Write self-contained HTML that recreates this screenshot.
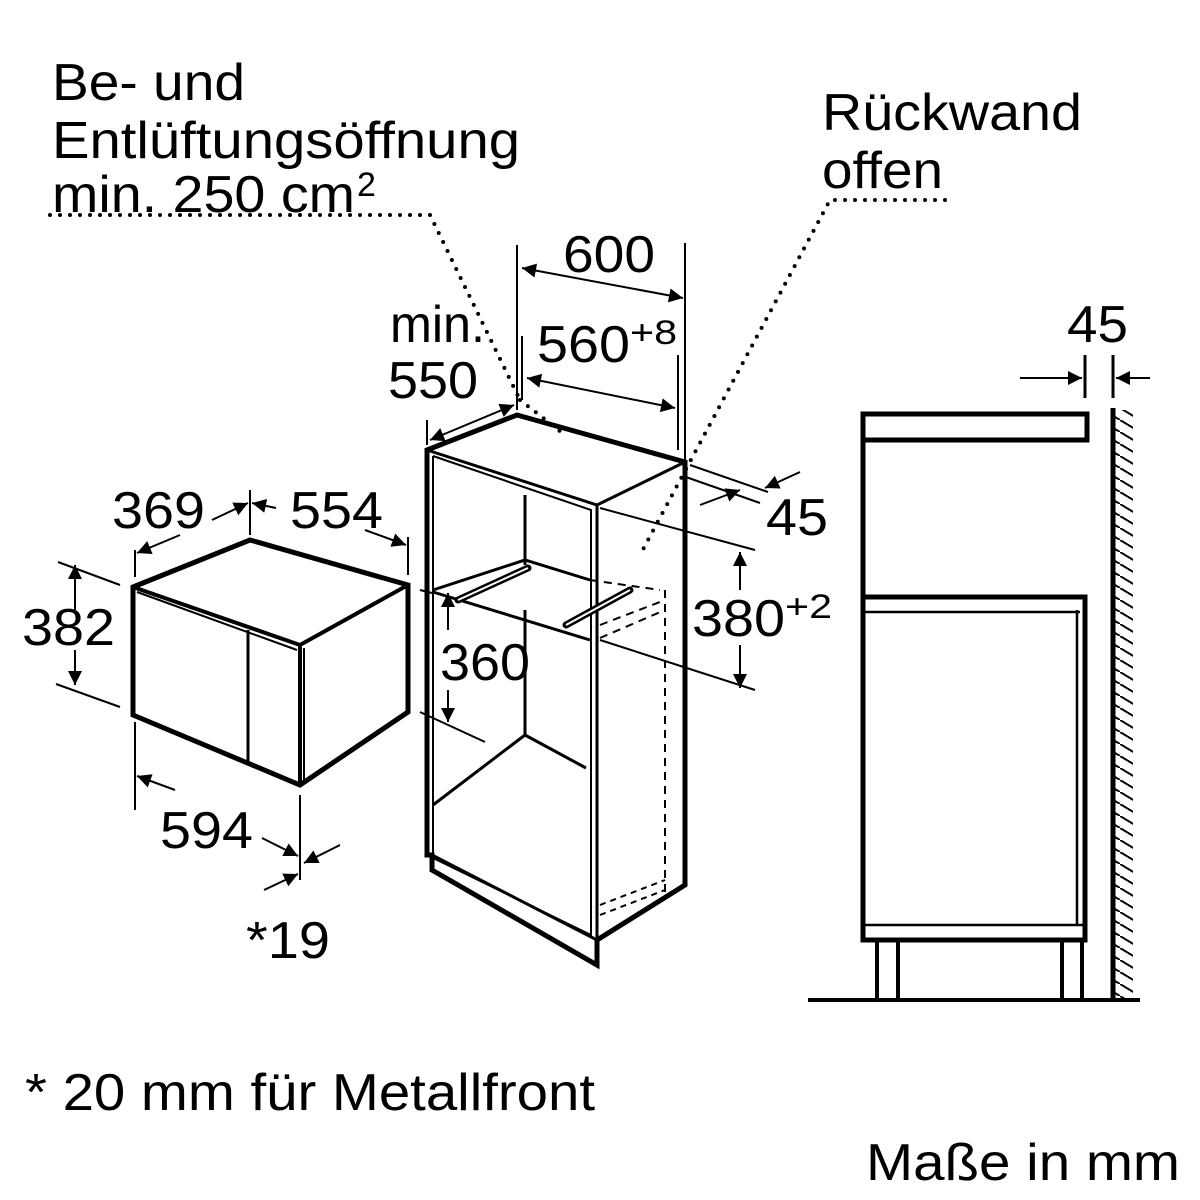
<!DOCTYPE html>
<html><head><meta charset="utf-8"><style>
html,body{margin:0;padding:0;background:#fff;}
svg{display:block;}
text{font-family:"Liberation Sans",sans-serif;fill:#000;}
</style></head><body>
<svg width="1200" height="1200" viewBox="0 0 1200 1200" xmlns="http://www.w3.org/2000/svg">
<defs>
<marker id="a2" viewBox="0 0 10 10" refX="10" refY="5" markerWidth="22" markerHeight="14" markerUnits="userSpaceOnUse" orient="auto-start-reverse"><path d="M0,0L10,5L0,10z"/></marker>
<pattern id="h" width="20" height="12" patternUnits="userSpaceOnUse"><path d="M0,0L20,12" stroke="#000" stroke-width="2"/></pattern>
</defs>
<g font-size="52">
<text x="52" y="100" textLength="193" lengthAdjust="spacingAndGlyphs">Be- und</text>
<text x="52" y="158" textLength="468" lengthAdjust="spacingAndGlyphs">Entlüftungsöffnung</text>
<text x="52" y="212" textLength="303" lengthAdjust="spacingAndGlyphs">min. 250 cm</text>
<text x="357" y="196" font-size="34">2</text>
<text x="822" y="130" textLength="260" lengthAdjust="spacingAndGlyphs">Rückwand</text>
<text x="822" y="188" textLength="121" lengthAdjust="spacingAndGlyphs">offen</text>
<text x="563" y="272" textLength="92" lengthAdjust="spacingAndGlyphs">600</text>
<text x="390" y="342" textLength="95" lengthAdjust="spacingAndGlyphs">min.</text>
<text x="388" y="398" textLength="90" lengthAdjust="spacingAndGlyphs">550</text>
<text x="537" y="362" textLength="93" lengthAdjust="spacingAndGlyphs">560</text>
<text x="630" y="344" font-size="34" textLength="47" lengthAdjust="spacingAndGlyphs">+8</text>
<text x="1067" y="342" textLength="61" lengthAdjust="spacingAndGlyphs">45</text>
<text x="766" y="535" textLength="62" lengthAdjust="spacingAndGlyphs">45</text>
<text x="692" y="636" textLength="93" lengthAdjust="spacingAndGlyphs">380</text>
<text x="785" y="618" font-size="34" textLength="47" lengthAdjust="spacingAndGlyphs">+2</text>
<text x="440" y="680" textLength="90" lengthAdjust="spacingAndGlyphs">360</text>
<text x="112" y="528" textLength="93" lengthAdjust="spacingAndGlyphs">369</text>
<text x="290" y="528" textLength="93" lengthAdjust="spacingAndGlyphs">554</text>
<text x="22" y="645" textLength="93" lengthAdjust="spacingAndGlyphs">382</text>
<text x="160" y="848" textLength="93" lengthAdjust="spacingAndGlyphs">594</text>
<text x="246" y="958" textLength="84" lengthAdjust="spacingAndGlyphs">*19</text>
<text x="25" y="1110" textLength="570" lengthAdjust="spacingAndGlyphs">* 20 mm für Metallfront</text>
<text x="866" y="1180" textLength="314" lengthAdjust="spacingAndGlyphs">Maße in mm</text>
</g>
<g fill="none" stroke="#000" stroke-linecap="round">
<path d="M50,215 L430,215 L520,400" stroke-width="4" stroke-dasharray="0 10"/>
<path d="M520,400 L565,435" stroke-width="4" stroke-dasharray="0 10"/>
<path d="M945,200 L830,200 L640,555" stroke-width="4" stroke-dasharray="0 10"/>
</g>
<g fill="none" stroke="#000" stroke-width="2">
<!-- microwave -->
<path d="M133,587 L250,540 L408,585 L408,712 L300,785 L133,715 Z" stroke-width="5"/>
<path d="M133,587 L300,645 L408,585 M300,645 L300,785" stroke-width="4"/>
<path d="M137,592 L297,650 M304,648 L304,783" stroke-width="2"/>
<path d="M248,630 L248,762" stroke-width="3"/>
<path d="M135,550 L135,577 M300,795 L300,880 M135,722 L135,810 M250,490 L250,535 M408,537 L408,575" stroke-width="2"/>
<path d="M58,562 L120,585 M56,684 L120,707" stroke-width="2"/>
<path d="M75,610 L75,565" marker-end="url(#a2)" stroke-width="2"/>
<path d="M75,650 L75,685" marker-end="url(#a2)" stroke-width="2"/>
<path d="M180,535 L137,553" marker-end="url(#a2)"/>
<path d="M212,520 L248,503" marker-end="url(#a2)"/>
<path d="M276,508 L252,503" marker-end="url(#a2)"/>
<path d="M365,530 L406,545" marker-end="url(#a2)"/>
<path d="M175,790 L137,776" marker-end="url(#a2)"/>
<path d="M262,838 L298,856" marker-end="url(#a2)"/>
<path d="M340,845 L304,863" marker-end="url(#a2)"/>
<path d="M264,890 L298,874" marker-end="url(#a2)"/>
<!-- cabinet -->
<path d="M427,450 L517,415 L685,462 L685,885 L597,940 L597,965 L432,870 L432,855 L427,855 Z" stroke-width="5"/>
<path d="M427,450 L597,505 L685,462 M597,505 L597,940 M432,855 L597,940" stroke-width="3"/>
<path d="M433,456 L591,510 L591,935 L433,858 M433,456 L433,858" stroke-width="2"/>
<path d="M685,885 L597,940" stroke-width="4"/>
<path d="M525,495 L525,565 M525,610 L525,735 M525,735 L433,805 M525,735 L586,768" stroke-width="3"/>
<path d="M433,590 L525,560 L590,580 M433,592 L590,640" stroke-width="3"/>
<path d="M590,580 L660,590 M665,590 L665,900 M600,625 L665,600 M600,638 L665,610" stroke-width="2" stroke-dasharray="8 6"/>
<path d="M600,905 L665,880 M600,915 L665,890" stroke-width="2" stroke-dasharray="6 5"/>
<path d="M458,600 L528,568 M566,625 L630,590" stroke-width="7" stroke-linecap="round"/>
<path d="M458,600 L528,568 M566,625 L630,590" stroke="#fff" stroke-width="2"/>
<!-- cabinet dims -->
<path d="M517,245 L517,410 M685,243 L685,462 M522,336 L522,400 M678,355 L678,450" stroke-width="2"/>
<path d="M522,268 L683,298" marker-start="url(#a2)" marker-end="url(#a2)"/>
<path d="M527,378 L675,408" marker-start="url(#a2)" marker-end="url(#a2)"/>
<path d="M427,420 L427,445"/>
<path d="M430,440 L514,405" marker-start="url(#a2)" marker-end="url(#a2)"/>
<path d="M690,465 L768,492 M683,476 L760,503"/>
<path d="M800,472 L765,488" marker-end="url(#a2)"/>
<path d="M700,505 L740,490" marker-end="url(#a2)"/>
<path d="M600,508 L755,550 M600,640 L755,690"/>
<path d="M740,590 L740,552" marker-end="url(#a2)"/>
<path d="M740,645 L740,688" marker-end="url(#a2)"/>
<path d="M420,590 L432,593 M420,712 L485,742"/>
<path d="M448,630 L448,593" marker-end="url(#a2)"/>
<path d="M448,690 L448,722" marker-end="url(#a2)"/>
<!-- side view -->
<rect x="863" y="414" width="224" height="26" stroke-width="5"/>
<path d="M863,440 L863,940 L1085,940 L1085,597 L863,597" stroke-width="5"/>
<path d="M863,612 L1080,612 M863,925 L1080,925 M1077,610 L1077,925 L1083,925" stroke-width="2.5"/>
<path d="M877,940 L877,1000 M898,940 L898,1000 M1062,940 L1062,1000 M1082,940 L1082,1000" stroke-width="4"/>
<path d="M808,1000 L1140,1000" stroke-width="4"/>
<rect x="1115" y="410" width="18" height="590" fill="url(#h)" stroke="none"/>
<path d="M1113,408 L1113,1000" stroke-width="5"/>
<path d="M1085,355 L1085,398 M1113,355 L1113,398" stroke-width="3"/>
<path d="M1020,378 L1082,378" marker-end="url(#a2)" stroke-width="2"/>
<path d="M1150,378 L1116,378" marker-end="url(#a2)" stroke-width="2"/>
</g>
</svg>
</body></html>
